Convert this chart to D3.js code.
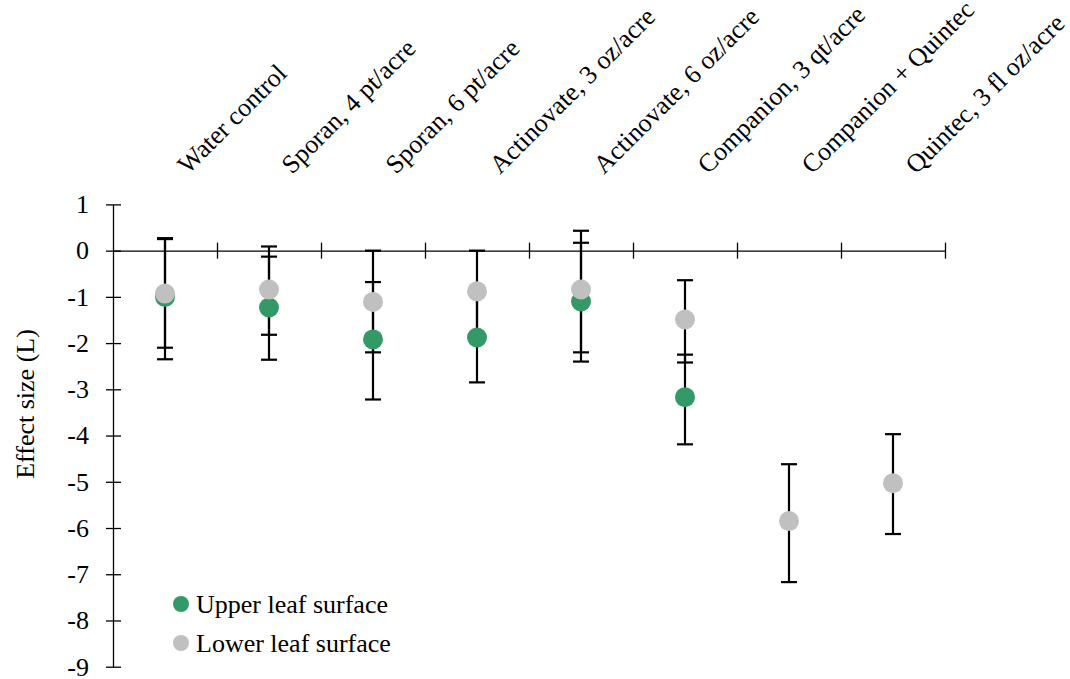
<!DOCTYPE html>
<html>
<head>
<meta charset="utf-8">
<script src="https://cdn.jsdelivr.net/npm/d3@7"></script>
<style>
  html, body { margin: 0; padding: 0; background: #fff; }
  svg { display: block; }
  text { font-family: "Liberation Serif", "Times New Roman", serif; fill: #000; }
</style>
</head>
<body>
<svg id="chart" width="1070" height="679"></svg>
<script>
const categories = ["Water control", "Sporan, 4 pt/acre", "Sporan, 6 pt/acre", "Actinovate, 3 oz/acre",
  "Actinovate, 6 oz/acre", "Companion, 3 qt/acre", "Companion + Quintec", "Quintec, 3 fl oz/acre"];
const upperMean = [-1.00, -1.23, -1.92, -1.88, -1.10, -3.17, null, null];
const upperLow  = [-2.35, -2.36, -3.22, -2.85, -2.40, -4.19, null, null];
const upperHigh = [0.27, -0.13, -0.68, -0.98, 0.17, -2.25, null, null];
const lowerMean = [-0.93, -0.84, -1.11, -0.88, -0.84, -1.49, -5.85, -5.03];
const lowerLow  = [-2.10, -1.82, -2.20, -1.86, -2.20, -2.42, -7.17, -6.13];
const lowerHigh = [0.25, 0.09, 0.00, 0.00, 0.43, -0.64, -4.62, -3.97];
const yTicks = [1, 0, -1, -2, -3, -4, -5, -6, -7, -8, -9];
const seriesNames = ["Upper leaf surface", "Lower leaf surface"];
const seriesColors = ["#339966", "#C0C0C0"];

const svg = d3.select("#chart");
const mLeft = 113, mRight = 945, mTop = 204.4, mBottom = 666.7;
const FS = 26;

const y = d3.scaleLinear().domain([-9, 1]).range([mBottom, mTop]);
const x = d3.scaleBand().domain(categories).range([mLeft, mRight]).padding(0);
const xIdx = d3.scaleLinear().domain([0, categories.length]).range([mLeft, mRight]);
const cx = c => x(c) + x.bandwidth() / 2;

// Y axis
const yAxis = svg.append("g").attr("transform", `translate(${mLeft},0)`)
  .call(d3.axisLeft(y).tickValues(yTicks).tickFormat(d => String(d)).tickSizeInner(7).tickSizeOuter(0).tickPadding(17));
yAxis.select(".domain").attr("stroke", "#000").attr("stroke-width", 1.3);
yAxis.selectAll(".tick line").attr("x1", 8).attr("x2", -7).attr("stroke", "#000").attr("stroke-width", 1.3);
yAxis.selectAll(".tick text").attr("font-size", FS).attr("font-family", "Liberation Serif, Times New Roman, serif").attr("dy", "0.32em");

// X axis at zero
const xAxis = svg.append("g").attr("transform", `translate(0,${y(0)})`)
  .call(d3.axisBottom(xIdx).tickValues(d3.range(1, categories.length + 1)).tickFormat("").tickSizeInner(8).tickSizeOuter(0));
xAxis.select(".domain").attr("stroke", "#000").attr("stroke-width", 1.3);
xAxis.selectAll(".tick line").attr("y1", -8).attr("y2", 8).attr("stroke", "#000").attr("stroke-width", 1.3);

// Category labels
svg.append("g").selectAll("text").data(categories).join("text")
  .attr("transform", d => `translate(${cx(d) + 23},${175}) rotate(-45)`)
  .attr("font-size", FS)
  .attr("text-anchor", "start")
  .text(d => d);

// Error bars
const rows = [];
categories.forEach((c, i) => {
  if (upperMean[i] !== null) rows.push({c, lo: upperLow[i], hi: upperHigh[i]});
  rows.push({c, lo: lowerLow[i], hi: lowerHigh[i]});
});
const eb = svg.append("g").attr("stroke", "#000").attr("stroke-width", 2.2);
eb.selectAll("line.v").data(rows).join("line").attr("class", "v")
  .attr("x1", d => cx(d.c)).attr("x2", d => cx(d.c))
  .attr("y1", d => y(d.lo)).attr("y2", d => y(d.hi));
eb.selectAll("line.lo").data(rows).join("line").attr("class", "lo")
  .attr("x1", d => cx(d.c) - 8).attr("x2", d => cx(d.c) + 8)
  .attr("y1", d => y(d.lo)).attr("y2", d => y(d.lo));
eb.selectAll("line.hi").data(rows).join("line").attr("class", "hi")
  .attr("x1", d => cx(d.c) - 8).attr("x2", d => cx(d.c) + 8)
  .attr("y1", d => y(d.hi)).attr("y2", d => y(d.hi));

// Points
const upperPts = categories.map((c, i) => ({c, v: upperMean[i]})).filter(d => d.v !== null);
const lowerPts = categories.map((c, i) => ({c, v: lowerMean[i]}));
svg.append("g").selectAll("circle").data(upperPts).join("circle")
  .attr("cx", d => cx(d.c)).attr("cy", d => y(d.v)).attr("r", 10).attr("fill", seriesColors[0]);
svg.append("g").selectAll("circle").data(lowerPts).join("circle")
  .attr("cx", d => cx(d.c)).attr("cy", d => y(d.v)).attr("r", 10).attr("fill", seriesColors[1]);

// Y axis title
svg.append("text")
  .attr("transform", `translate(34,${404}) rotate(-90)`)
  .attr("text-anchor", "middle")
  .attr("font-size", FS)
  .text("Effect size (L)");

// Legend
const lg = svg.append("g");
seriesNames.forEach((n, i) => {
  const yy = 604 + i * 39;
  lg.append("circle").attr("cx", 181).attr("cy", yy).attr("r", 8).attr("fill", seriesColors[i]);
  lg.append("text").attr("x", 196).attr("y", yy).attr("dy", "0.35em").attr("font-size", FS).text(n);
});
</script>
</body>
</html>
